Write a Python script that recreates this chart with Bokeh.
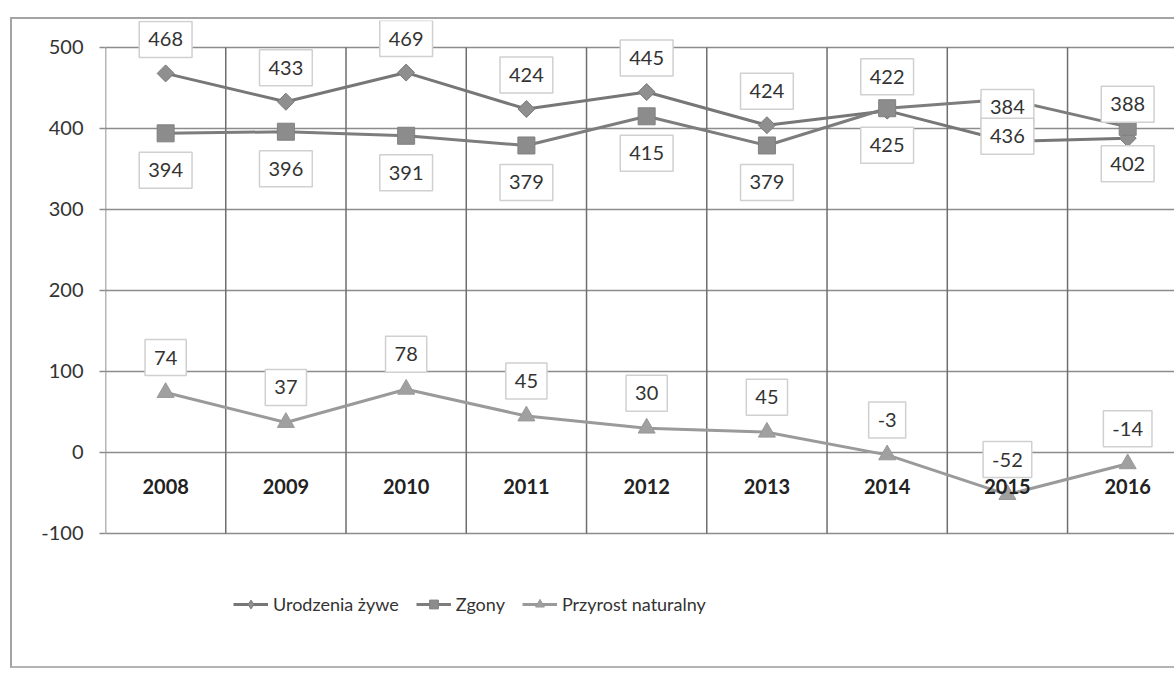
import math
from bokeh.plotting import figure
from bokeh.models import Range1d, FixedTicker, Legend, LegendItem
from bokeh.core.properties import value
from bokeh.embed import file_html
from bokeh.resources import INLINE

# ---- data ----
years = ["2008", "2009", "2010", "2011", "2012", "2013", "2014", "2015", "2016"]
urodzenia = [468, 433, 469, 424, 445, 404, 422, 384, 388]
urodzenia_labels = ["468", "433", "469", "424", "445", "424", "422", "384", "388"]
zgony = [394, 396, 391, 379, 415, 379, 425, 436, 402]
zgony_labels = ["394", "396", "391", "379", "415", "379", "425", "436", "402"]
przyrost = [74, 37, 78, 45, 30, 25, -3, -52, -14]
przyrost_labels = ["74", "37", "78", "45", "30", "45", "-3", "-52", "-14"]
y_ticks = [-100, 0, 100, 200, 300, 400, 500]
y_tick_labels = {t: str(t) for t in y_ticks}
series_names = ["Urodzenia żywe", "Zgony", "Przyrost naturalny"]

idx = list(range(len(years)))
bounds = [i - 0.5 for i in range(len(years) + 1)]

FONT = "Lato"

p = figure(width=1164, height=651, output_backend="svg", toolbar_location=None,
           x_range=Range1d(-0.5, 8.406), y_range=Range1d(-269.2, 533.3),
           min_border_left=93, min_border_top=1, min_border_bottom=0,
           min_border_right=0)
p.styles = {"margin-left": "10px", "margin-top": "17px",
            "border-left": "2px solid #a4a4a4", "border-top": "2px solid #a4a4a4",
            "border-bottom": "2px solid #b4b4b4"}
p.outline_line_color = None
p.background_fill_color = "white"
p.border_fill_color = "white"

p.xaxis.visible = False
p.xgrid.visible = False
p.yaxis.ticker = FixedTicker(ticks=y_ticks)
p.yaxis.major_label_overrides = y_tick_labels
p.ygrid.ticker = FixedTicker(ticks=y_ticks)
p.ygrid.grid_line_color = "#8c8c8c"
p.ygrid.grid_line_width = 1.5
p.yaxis.axis_line_color = None
p.yaxis.major_tick_in = 0
p.yaxis.major_tick_out = 6
p.yaxis.major_tick_line_color = "#8c8c8c"
p.yaxis.major_tick_line_width = 1.5
p.yaxis.minor_tick_line_color = None
p.yaxis.major_label_text_font = FONT
p.yaxis.major_label_text_font_size = "20px"
p.yaxis.major_label_text_color = "#333333"
p.yaxis.major_label_standoff = 16

# category boundary lines
p.segment(x0=bounds, y0=[min(y_ticks)] * len(bounds), x1=bounds,
          y1=[max(y_ticks)] * len(bounds), line_color="#6e6e6e", line_width=1.5)

# series
c1_line, c1_fill = "#777777", "#8f8f8f"
c2_line, c2_fill = "#7d7d7d", "#8c8c8c"
c3_line, c3_fill = "#9a9a9a", "#a0a0a0"
l1 = p.line(idx, urodzenia, line_color=c1_line, line_width=3)
p.scatter(idx, urodzenia, marker="square", angle=math.pi / 4, size=12,
          fill_color=c1_fill, line_color="#7a7a7a")
l2 = p.line(idx, zgony, line_color=c2_line, line_width=3)
s2 = p.scatter(idx, zgony, marker="square", size=17, fill_color=c2_fill, line_color="#808080")
l3 = p.line(idx, przyrost, line_color=c3_line, line_width=3)
s3 = p.scatter(idx, przyrost, marker="triangle", size=17, fill_color=c3_fill, line_color="#999999")
# legend-only proxy (not drawn on the plot) so the legend shows a diamond
s1_leg = p.scatter(x=[float("nan")], y=[float("nan")], marker="diamond", size=14,
                   fill_color=c1_fill, line_color="#7a7a7a")

# year labels at the zero axis
p.text(x=idx, y=[0] * len(idx), text=years, y_offset=34, text_align="center",
       text_baseline="middle", text_font=value(FONT), text_font_size="20px",
       text_font_style="bold", text_color="#222222")

label_kw = dict(text_align="center", text_baseline="middle", text_font=value(FONT),
                text_font_size="20px", text_color="#333333",
                background_fill_color="white", border_line_color="#d0d0d0",
                border_line_width=1.5,
                padding=dict(left=9, right=9, top=11, bottom=11))
p.text(x=idx, y=urodzenia, text=urodzenia_labels, y_offset=-34, **label_kw)
p.text(x=idx, y=zgony, text=zgony_labels, y_offset=37, **label_kw)
p.text(x=idx, y=przyrost, text=przyrost_labels, y_offset=-35, **label_kw)

legend = Legend(items=[
    LegendItem(label=series_names[0], renderers=[l1, s1_leg]),
    LegendItem(label=series_names[1], renderers=[l2, s2]),
    LegendItem(label=series_names[2], renderers=[l3, s3]),
], location=(128, 55), orientation="horizontal")
legend.label_text_font = FONT
legend.label_text_font_size = "18px"
legend.label_text_color = "#333333"
legend.glyph_width = 35
legend.glyph_height = 22
legend.label_standoff = 5
legend.spacing = 17
legend.padding = 0
legend.margin = 0
legend.border_line_color = None
legend.background_fill_alpha = 0
p.add_layout(legend, "center")

open("out.html", "w").write(file_html(p, INLINE))
